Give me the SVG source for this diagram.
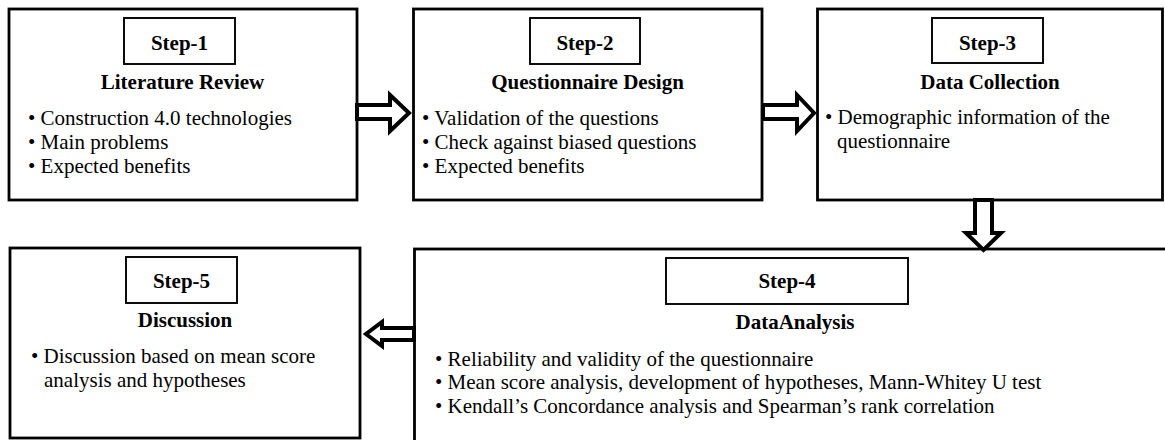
<svg xmlns="http://www.w3.org/2000/svg" width="1165" height="440" viewBox="0 0 1165 440">
<style>
.box{fill:#fff;stroke:#000;stroke-width:2.8}
.step{fill:#fff;stroke:#000;stroke-width:1.9}
.arrow{fill:#fff;stroke:#000;stroke-width:4;stroke-linejoin:miter}
text{font-family:"Liberation Serif","Times New Roman",serif;font-size:21px;fill:#000}
.b{font-weight:bold}
.c{text-anchor:middle}
</style>
<rect width="1165" height="440" fill="#fff"/>
<g id="step1">
<rect class="box" x="9" y="9" width="348" height="191"/>
<rect class="step" x="124" y="18" width="111" height="46"/>
<text class="b c" x="179.5" y="50">Step-1</text>
<text class="b c" x="182.5" y="89">Literature Review</text>
<text x="28" y="125">• Construction 4.0 technologies</text>
<text x="28" y="149">• Main problems</text>
<text x="28" y="173">• Expected benefits</text>
</g>
<g id="step2">
<rect class="box" x="413.5" y="9" width="348.5" height="191"/>
<rect class="step" x="530" y="18" width="110" height="46"/>
<text class="b c" x="585" y="50">Step-2</text>
<text class="b c" x="587.5" y="89">Questionnaire Design</text>
<text x="422" y="125">• Validation of the questions</text>
<text x="422" y="149">• Check against biased questions</text>
<text x="422" y="173">• Expected benefits</text>
</g>
<g id="step3">
<rect class="box" x="817.5" y="9" width="345" height="191"/>
<rect class="step" x="932" y="18" width="111" height="45"/>
<text class="b c" x="987.5" y="50">Step-3</text>
<text class="b c" x="990" y="89">Data Collection</text>
<text x="825" y="124">• Demographic information of the</text>
<text x="837" y="148">questionnaire</text>
</g>
<g id="step4">
<rect class="box" x="414.5" y="249" width="760" height="200"/>
<rect class="step" x="666" y="258" width="242" height="46"/>
<text class="b c" x="787" y="288">Step-4</text>
<text class="b c" x="795" y="329">DataAnalysis</text>
<text x="435" y="366">• Reliability and validity of the questionnaire</text>
<text x="435" y="389">• Mean score analysis, development of hypotheses, Mann-Whitey U test</text>
<text x="435" y="413">• Kendall’s Concordance analysis and Spearman’s rank correlation</text>
</g>
<g id="step5">
<rect class="box" x="10" y="248" width="350" height="190"/>
<rect class="step" x="126" y="257" width="111" height="46"/>
<text class="b c" x="181.5" y="288">Step-5</text>
<text class="b c" x="185" y="327">Discussion</text>
<text x="31" y="363">• Discussion based on mean score</text>
<text x="44" y="387">analysis and hypotheses</text>
</g>
<g id="connectors">
<path class="arrow" d="M357,105 H390 V95 L409,113 L390,131 V119 H357 Z"/>
<path class="arrow" d="M763,105 H797 V95 L814,113 L797,131 V119 H763 Z"/>
<path class="arrow" d="M975,200 V233 H966 L983.5,250 L1001,233 H992 V200 Z"/>
<path class="arrow" d="M414,328 H382 V322 L366,334 L382,346 V340 H414 Z"/>
</g>
</svg>
